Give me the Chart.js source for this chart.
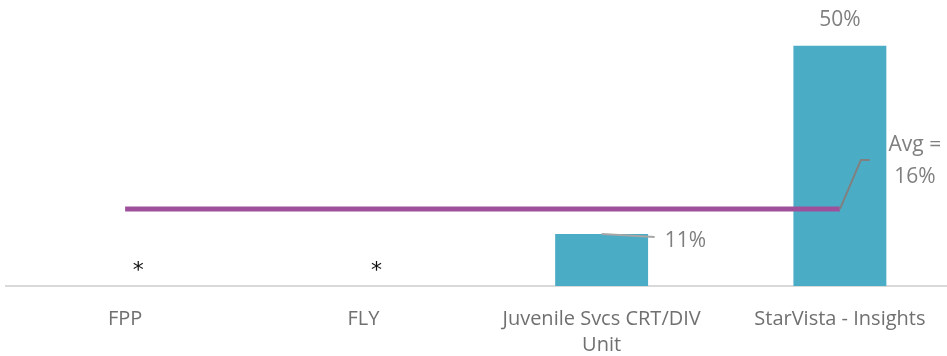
<!DOCTYPE html>
<html>
<head>
    <title>Rates by Program</title>
    <script src="https://cdn.jsdelivr.net/npm/chart.js"></script>
    <style>
        html, body { margin: 0; padding: 0; background: #fff; overflow: hidden; }
        #wrap { width: 959px; height: 378px; position: relative; }
    </style>
</head>
<body>
    <div id="wrap"><canvas id="rateChart"></canvas></div>

    <script>
        // Chart data
        const categories = ['FPP', 'FLY', ['Juvenile Svcs CRT/DIV', 'Unit'], 'StarVista - Insights'];
        const rates = [null, null, 10.8, 50];
        const avgRate = [16, 16, 16, 16];
        const rateLabels = ['*', '*', '11%', '50%'];
        const avgLabel = ['Avg =', '16%'];

        const textGray = '#7f7f7f';

        // Draws the data labels, asterisks and leader lines
        const labelPlugin = {
            id: 'labels',
            afterDatasetsDraw(chart) {
                const ctx = chart.ctx;
                const x = chart.scales.x, y = chart.scales.y;
                ctx.save();
                ctx.textBaseline = 'middle';
                rates.forEach((v, i) => {
                    const cx = x.getPixelForValue(i);
                    if (v === null) {
                        ctx.fillStyle = '#111';
                        ctx.font = '22px "DejaVu Sans"';
                        ctx.textAlign = 'center';
                        ctx.fillText(rateLabels[i], cx + 13, y.getPixelForValue(0) - 15);
                    } else if (i === rates.length - 1) {
                        ctx.fillStyle = textGray;
                        ctx.font = '21px "Open Sans"';
                        ctx.textAlign = 'center';
                        ctx.fillText(rateLabels[i], cx, y.getPixelForValue(v) - 26);
                    } else {
                        const ty = y.getPixelForValue(v);
                        ctx.strokeStyle = '#a6a6a6';
                        ctx.lineWidth = 2;
                        ctx.beginPath();
                        ctx.moveTo(cx, ty);
                        ctx.lineTo(cx + 53, ty + 3);
                        ctx.stroke();
                        ctx.fillStyle = textGray;
                        ctx.font = '21px "Open Sans"';
                        ctx.textAlign = 'left';
                        ctx.fillText(rateLabels[i], cx + 63, ty + 7);
                    }
                });
                // average label with leader
                const ax = x.getPixelForValue(avgRate.length - 1);
                const ay = y.getPixelForValue(avgRate[avgRate.length - 1]);
                ctx.strokeStyle = '#808080';
                ctx.lineWidth = 2;
                ctx.beginPath();
                ctx.moveTo(ax, ay);
                ctx.lineTo(ax + 21, ay - 49);
                ctx.lineTo(ax + 30, ay - 49);
                ctx.stroke();
                ctx.fillStyle = textGray;
                ctx.font = '21px "Open Sans"';
                ctx.textAlign = 'center';
                ctx.fillText(avgLabel[0], ax + 75, ay - 64);
                ctx.fillText(avgLabel[1], ax + 75, ay - 32);
                ctx.restore();
            }
        };

        const chart = new Chart(document.getElementById('rateChart').getContext('2d'), {
            type: 'bar',
            data: {
                labels: categories,
                datasets: [
                    {
                        type: 'line',
                        label: 'Average',
                        data: avgRate,
                        borderColor: '#9e509b',
                        borderWidth: 5,
                        pointRadius: 0,
                        fill: false,
                        tension: 0
                    },
                    {
                        label: 'Rate',
                        data: rates,
                        backgroundColor: '#4bacc6',
                        barPercentage: 0.39,
                        categoryPercentage: 1
                    }
                ]
            },
            options: {
                responsive: true,
                maintainAspectRatio: false,
                animation: false,
                layout: { padding: { left: 6, right: 0, top: 0, bottom: 0 } },
                plugins: { legend: { display: false }, tooltip: { enabled: false } },
                scales: {
                    x: {
                        grid: { display: false, drawTicks: false },
                        border: { display: true, color: '#d9d9d9', width: 2 },
                        ticks: {
                            color: '#707070',
                            padding: 20,
                            maxRotation: 0,
                            autoSkip: false,
                            font: { family: 'Open Sans', size: 20, lineHeight: 1.3 }
                        }
                    },
                    y: {
                        display: false,
                        min: 0,
                        max: 59.5
                    }
                }
            },
            plugins: [labelPlugin]
        });
    </script>
</body>
</html>
